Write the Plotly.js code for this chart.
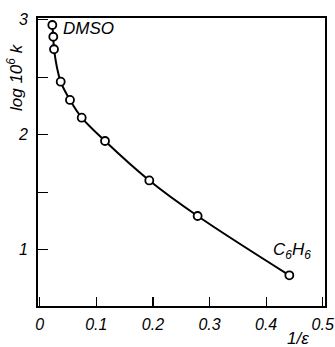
<!DOCTYPE html>
<html>
<head>
<meta charset="utf-8">
<script src="https://cdn.plot.ly/plotly-3.0.1.min.js"></script>
<style>html,body{margin:0;padding:0;background:#fff;}#chart{width:335px;height:347px;}</style>
</head>
<body>
<div id="chart"></div>
<script>
// Data
var invEps = [0.0223, 0.0240, 0.0253, 0.0371, 0.0535, 0.0742, 0.1154, 0.1936, 0.279, 0.441];
var logK   = [2.954, 2.852, 2.743, 2.461, 2.302, 2.148, 1.945, 1.602, 1.293, 0.777];
var xTickVals = [0, 0.1, 0.2, 0.3, 0.4, 0.5];
var xTickText = ['0', '0.1', '0.2', '0.3', '0.4', '0.5'];
var yTickVals = [1, 1.5, 2, 2.5, 3];
var yTickText = ['1', '', '2', '', '3'];

var fam = 'Liberation Sans, Arial, sans-serif';
var tf = {family: fam, size: 16, style: 'italic', color: '#000'};
var af = {family: fam, size: 17, style: 'italic', color: '#000'};
var trace = {
  x: invEps, y: logK, mode: 'lines+markers', type: 'scatter',
  line: {color: '#000', width: 2, shape: 'spline', smoothing: 1},
  marker: {symbol: 'circle', size: 8, color: '#fff', line: {color: '#000', width: 1.8}},
  hoverinfo: 'none', showlegend: false
};
var layout = {
  width: 335, height: 347,
  margin: {l: 38, r: 10, t: 18, b: 41},
  paper_bgcolor: '#fff', plot_bgcolor: '#fff',
  font: {family: fam, color: '#000'},
  xaxis: {
    range: [-0.003, 0.504], tickvals: xTickVals, ticktext: xTickText,
    ticks: 'inside', ticklen: 9, tickwidth: 1.2, tickcolor: '#000',
    showline: true, mirror: true, linecolor: '#000', linewidth: 2,
    showgrid: false, zeroline: false, ticklabelstandoff: 3,
    tickfont: tf
  },
  yaxis: {
    range: [0.51, 3.015], tickvals: yTickVals, ticktext: yTickText,
    ticks: 'inside', ticklen: 10, tickwidth: 1.2, tickcolor: '#000',
    showline: true, mirror: true, linecolor: '#000', linewidth: 2,
    showgrid: false, zeroline: false, ticklabelstandoff: 5,
    tickfont: tf
  },
  annotations: [
    {text: 'DMSO', x: 0.086, y: 2.92, xref: 'x', yref: 'y', showarrow: false, font: af},
    {text: 'C<sub>6</sub>H<sub>6</sub>', x: 0.446, y: 0.99, xref: 'x', yref: 'y', showarrow: false, font: af},
    {text: 'log 10<sup>6</sup> k', textangle: -90, x: 15, y: 77, xref: 'paper', yref: 'paper',
     xanchor: 'center', yanchor: 'middle', showarrow: false, font: af},
    {text: '1/ε', x: 298, y: 338, xref: 'paper', yref: 'paper',
     xanchor: 'center', yanchor: 'middle', showarrow: false, font: af}
  ]
};
// convert pixel-placed annotation positions into paper coords
var pw = 335 - 38 - 10, ph = 347 - 18 - 41;
layout.annotations.forEach(function(a){
  if (a.xref === 'paper') {
    a.x = (a.x - 38) / pw;
    a.y = 1 - (a.y - 18) / ph;
  }
});
Plotly.newPlot('chart', [trace], layout, {staticPlot: true, displayModeBar: false});
</script>
</body>
</html>
